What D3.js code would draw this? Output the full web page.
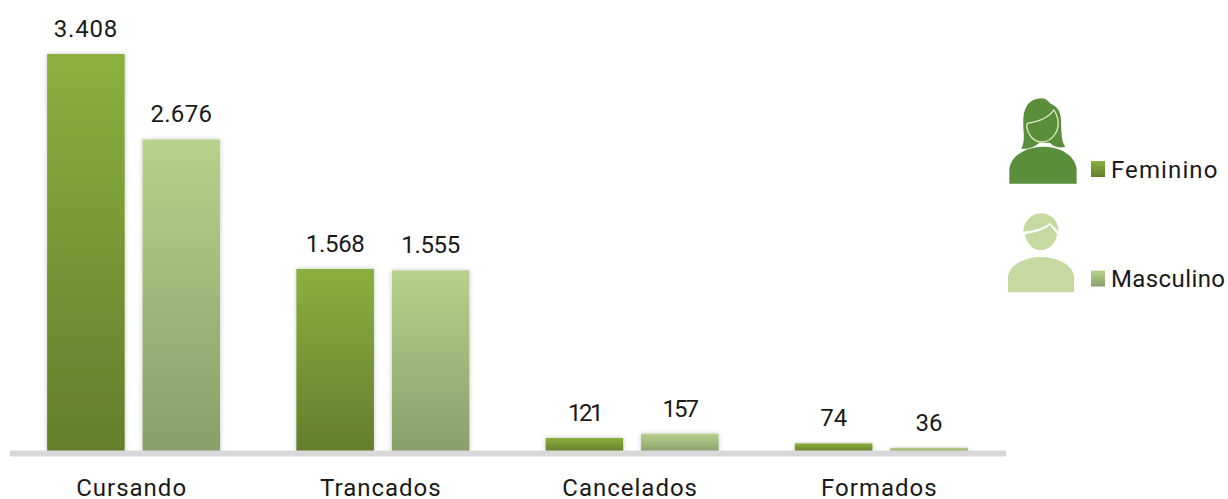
<!DOCTYPE html>
<html><head><meta charset="utf-8">
<script src="https://cdn.jsdelivr.net/npm/d3@7/dist/d3.min.js"></script>
<style>html,body{margin:0;padding:0;background:#fff}svg{display:block}text{font-family:Roboto,sans-serif;fill:#1a1a1a}</style>
</head><body><svg id="c" width="1228" height="499"></svg>
<script>
const categories=["Cursando","Trancados","Cancelados","Formados"];
const seriesNames=["Feminino","Masculino"];
const feminino=[3408,1568,121,74];
const masculino=[2676,1555,157,36];
const valueLabels=[["3.408","1.568","121","74"],["2.676","1.555","157","36"]];
const labelSpacing=[[0.8,-0.3,-2.5,0],[0.3,-0.3,-2,0]];
const svg=d3.select("#c");
const defs=svg.append("defs");
const grads=[["#8bb03f","#627e2b"],["#b6d28c","#879f6a"]];
grads.forEach((g,i)=>{const lg=defs.append("linearGradient").attr("id","g"+i).attr("x1",0).attr("x2",0).attr("y1",0).attr("y2",1);
 lg.append("stop").attr("offset","0%").attr("stop-color",g[0]);
 lg.append("stop").attr("offset","100%").attr("stop-color",g[1]);});
const f=defs.append("filter").attr("id","sh").attr("x","-20%").attr("y","-20%").attr("width","140%").attr("height","140%");
f.append("feDropShadow").attr("dx",0).attr("dy",0).attr("stdDeviation",2.5).attr("flood-color","#000").attr("flood-opacity",0.22);
const y0=452;
const x=d3.scaleBand().domain(categories).range([9,1006]).paddingInner(0.306).paddingOuter(0.153);
const xi=d3.scaleBand().domain(seriesNames).range([0,x.bandwidth()]).paddingInner(0.1875);
const y=d3.scaleLinear().domain([0,3408]).range([y0,54]);
[feminino,masculino].forEach((vals,s)=>{
 const g=svg.append("g");
 g.selectAll("rect").data(vals).join("rect")
  .attr("x",(d,i)=>x(categories[i])+xi(seriesNames[s])).attr("width",xi.bandwidth())
  .attr("y",d=>y(d)).attr("height",d=>y0-y(d)).attr("fill",`url(#g${s})`).attr("filter","url(#sh)");
 g.selectAll("text").data(vals).join("text").attr("text-anchor","middle").attr("font-size",24)
  .attr("letter-spacing",(d,i)=>labelSpacing[s][i])
  .attr("x",(d,i)=>x(categories[i])+xi(seriesNames[s])+xi.bandwidth()/2)
  .attr("y",d=>y(d)-17).text((d,i)=>valueLabels[s][i]);
});
// axis band sits over the bar feet
svg.append("rect").attr("x",10).attr("y",450.5).attr("width",996).attr("height",6).attr("fill","#d9d9d9");
svg.selectAll("text.cat").data(categories).join("text").attr("class","cat").attr("text-anchor","middle").attr("font-size",24).attr("letter-spacing",1)
 .attr("x",d=>x(d)+x.bandwidth()/2-2).attr("y",496).text(d=>d);
// legend
const legendY=[169,278.5];
const legendTextY=[178,286.5];
const legendSpacing=[1.1,0.4];
seriesNames.forEach((n,i)=>{
 svg.append("rect").attr("x",1091).attr("y",legendY[i]-8).attr("width",14).attr("height",16).attr("fill",`url(#g${i})`);
 svg.append("text").attr("x",1111).attr("y",legendTextY[i]).attr("font-size",24).attr("letter-spacing",legendSpacing[i]).text(n);
});
const ic=svg.append("g").attr("transform","translate(1000,90) scale(0.3333)");
ic.append("path").attr("fill","#5a8e3b").attr("d","M28 281 L28 240 C30 200 75 170 130 170 C185 170 228 200 230 240 L230 281 Z");
ic.append("path").attr("fill","#5a8e3b").attr("d","M125 25 C90 25 72 50 70 85 C68 125 78 150 64 176 C85 178 105 170 118 158 L150 158 C160 170 180 176 196 170 C180 150 186 110 182 80 C178 55 165 48 150 40 C142 30 135 25 125 25 Z");
ic.append("path").attr("fill","none").attr("stroke","#dfe8c6").attr("stroke-width",4).attr("d","M82 100 C110 96 145 85 162 60 C178 85 178 115 165 132 C155 148 140 156 125 156 C100 156 85 135 80 112 Z");
ic.append("path").attr("fill","#c6d9a0").attr("d","M24 607 L24 560 C28 525 75 501 122 501 C170 501 220 525 222 560 L222 607 Z");
ic.append("path").attr("fill","#c6d9a0").attr("d","M70 425 C70 395 95 370 122 370 C152 370 176 392 176 425 L150 398 C130 415 100 422 70 425 Z");
ic.append("path").attr("fill","#c6d9a0").attr("d","M75 432 C105 428 132 420 150 405 L171 432 C168 460 148 480 122 480 C96 480 78 458 75 432 Z");
</script></body></html>
